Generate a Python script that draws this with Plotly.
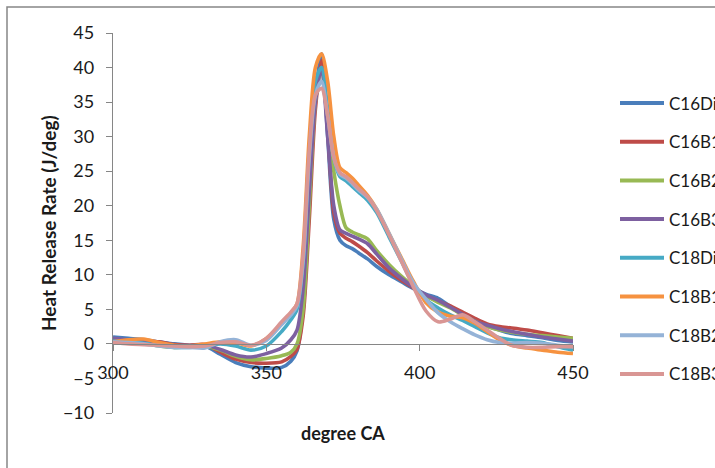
import plotly.graph_objects as go

crank_angle = [300, 305, 310, 315, 320, 325, 330, 335, 340, 345, 350, 355, 358, 360, 362, 364, 366, 368,
               370, 372, 374, 376, 378, 380, 383, 386, 390, 394, 398, 402, 406, 410, 414, 418, 422, 426,
               430, 435, 440, 445, 450]

c16_diesel = [1.0, 0.8, 0.6, 0.3, 0.0, -0.2, -0.3, -1.5, -2.7, -3.3, -3.5, -3.4, -2.5, -1.0, 5, 20, 36, 42,
              30, 18, 15, 14.2, 13.8, 13.2, 12.3, 11.2, 10.0, 9.0, 8.0, 7.2, 6.6, 5.4, 4.2, 3.3, 2.6, 2.0,
              1.5, 1.2, 0.9, 0.5, 0.3]
c16_b10 = [0.6, 0.5, 0.4, 0.3, -0.1, -0.2, -0.1, -1.2, -2.2, -2.7, -2.8, -2.6, -1.8, -0.8, 4, 18, 34, 41,
           31, 19, 16, 15.3, 14.8, 14.2, 13.2, 12.0, 10.5, 9.2, 8.1, 7.0, 6.2, 5.5, 4.6, 3.7, 2.9, 2.5,
           2.3, 2.0, 1.6, 1.2, 0.8]
c16_b20 = [0.5, 0.4, 0.2, -0.3, -0.5, -0.4, -0.3, -0.9, -1.8, -2.3, -2.1, -1.7, -1.2, 0.0, 5, 20, 35, 40,
           32, 25, 20, 16.8, 16.2, 15.8, 15.2, 13.5, 11.5, 9.8, 8.3, 7.0, 6.0, 5.2, 4.2, 3.3, 2.5, 2.0,
           1.7, 1.4, 1.2, 1.0, 0.8]
c16_b30 = [0.8, 0.6, 0.5, 0.1, -0.3, -0.3, -0.2, -0.8, -1.6, -1.9, -1.4, -0.6, 0.6, 2.0, 8, 22, 35, 40,
           30, 20, 16.5, 16.0, 15.6, 15.2, 14.5, 13.0, 11.0, 9.5, 8.2, 7.1, 6.3, 5.3, 4.3, 3.3, 2.7, 2.2,
           1.8, 1.4, 1.0, 0.7, 0.4]
c18_diesel = [0.4, 0.3, 0.1, -0.2, -0.5, -0.5, -0.3, 0.0, -0.3, -0.9, -0.3, 1.8, 3.5, 5.0, 12, 28, 38, 40,
              34, 27, 24.2, 23.6, 22.8, 22.0, 20.8, 19.0, 15.5, 12.0, 8.5, 6.4, 5.2, 4.2, 3.4, 2.5, 1.6, 0.9,
              0.6, 0.4, 0.2, -0.4, -0.9]
c18_b10 = [0.3, 0.6, 0.7, 0.2, -0.2, -0.3, 0.0, 0.3, 0.2, -0.3, 0.8, 3.0, 4.5, 5.8, 14, 30, 40, 42,
           38, 30, 25.5, 24.8, 24.0, 23.0, 21.5, 19.5, 16.0, 12.5, 9.0, 6.0, 4.6, 4.0, 3.8, 3.0, 1.8, 0.6,
           -0.2, -0.6, -0.9, -1.2, -1.4]
c18_b20 = [0.3, 0.2, 0.0, -0.3, -0.5, -0.5, -0.6, 0.3, 0.6, -0.2, 0.5, 2.8, 4.2, 5.5, 12, 27, 36, 38,
           33, 27, 24.5, 24.0, 23.2, 22.3, 21.2, 19.5, 16.0, 12.3, 8.8, 6.5, 4.5, 3.2, 2.2, 1.3, 0.6, 0.2,
           0.1, 0.2, 0.1, -0.2, -0.4]
c18_b30 = [0.2, 0.0, -0.1, -0.2, -0.3, -0.4, -0.3, 0.2, 0.3, -0.2, 0.8, 3.2, 4.6, 5.8, 13, 28, 36, 37,
           33, 27, 24.8, 24.2, 23.4, 22.5, 21.3, 19.3, 15.8, 12.0, 8.2, 4.8, 3.2, 3.6, 4.2, 3.2, 2.0, 0.8,
           -0.2, -0.5, -0.5, -0.4, -0.4]

series_names = ["C16Diesel", "C16B10", "C16B20", "C16B30", "C18Diesel", "C18B10", "C18B20", "C18B30"]
series_values = [c16_diesel, c16_b10, c16_b20, c16_b30, c18_diesel, c18_b10, c18_b20, c18_b30]
colors = ["#4A7EBB", "#BE4B48", "#98B954", "#7D60A0", "#46AAC5", "#F69240", "#95B3D7", "#D99694"]

y_ticks = list(range(-10, 50, 5))
x_ticks = [300, 350, 400, 450]

FONT = "Lato, 'Liberation Sans', Arial, sans-serif"
TXT = "#1a1a1a"
GREY = "#868686"

fig = go.Figure()
for name, vals, col in zip(series_names, series_values, colors):
    fig.add_trace(go.Scatter(x=crank_angle, y=vals, mode="lines", name=name,
                             line=dict(color=col, width=3.6, shape="spline", smoothing=0.8),
                             showlegend=False))

# plot area in pixels: x 113..573, y 33..413
L, R, T, B = 113, 573, 33, 413
W, H = 715, 468

def px_x(p):
    return (p - L) / (R - L)

def px_y(p):
    return (B - p) / (B - T)

shapes = []
annotations = []

# outer chart border
shapes.append(dict(type="rect", xref="paper", yref="paper",
                   x0=px_x(7), x1=px_x(730), y0=px_y(480), y1=px_y(7),
                   line=dict(color=GREY, width=1.5), fillcolor="rgba(0,0,0,0)", layer="below"))

# legend (the chart's legend runs past the right edge of the picture, as in the reference)
for i, (name, col) in enumerate(zip(series_names, colors)):
    yy = 103 + 38.7 * i
    shapes.append(dict(type="line", xref="paper", yref="paper",
                       x0=px_x(620), x1=px_x(664), y0=px_y(yy), y1=px_y(yy),
                       line=dict(color=col, width=4)))
    annotations.append(dict(x=px_x(667), y=px_y(yy), xref="paper", yref="paper", text=name,
                            showarrow=False, xanchor="left", yanchor="middle",
                            font=dict(family=FONT, size=17, color=TXT)))

annotations.append(dict(x=px_x(48), y=px_y(223), xref="paper", yref="paper",
                        text="<b>Heat Release Rate (J/deg)</b>", textangle=-90, showarrow=False,
                        xanchor="center", yanchor="middle", font=dict(family=FONT, size=19, color=TXT)))
annotations.append(dict(x=0.5, y=px_y(433), xref="paper", yref="paper",
                        text="<b>degree CA</b>", showarrow=False,
                        xanchor="center", yanchor="middle", font=dict(family=FONT, size=18, color=TXT)))

fig.update_layout(
    width=W, height=H,
    margin=dict(l=L, r=W - R, t=T, b=H - B, autoexpand=False),
    paper_bgcolor="white", plot_bgcolor="white",
    font=dict(family=FONT, size=18, color=TXT),
    shapes=shapes, annotations=annotations,
    xaxis=dict(range=[300, 450], tickvals=x_ticks, showgrid=False, zeroline=False,
               showline=True, linecolor=GREY, linewidth=1.3, ticks="outside", ticklen=6,
               tickcolor=GREY, anchor="free", position=10 / 55, ticklabelstandoff=6,
               tickfont=dict(family=FONT, size=18, color=TXT)),
    yaxis=dict(range=[-10, 45], tickvals=y_ticks, showgrid=False, zeroline=False,
               showline=True, linecolor=GREY, linewidth=1.3, ticks="outside", ticklen=6,
               tickcolor=GREY, ticklabelstandoff=8,
               tickfont=dict(family=FONT, size=18, color=TXT)),
)

fig.write_html("out.html")
